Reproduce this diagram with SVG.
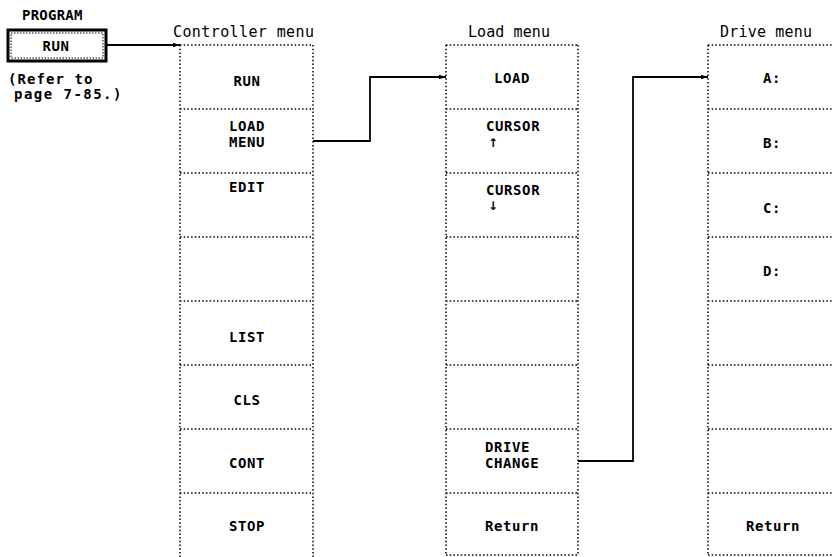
<svg xmlns="http://www.w3.org/2000/svg" width="832" height="557" viewBox="0 0 832 557">
<style>
.bg{fill:#fff}
.dot{stroke:#000;stroke-width:1.5;stroke-dasharray:1.5 2.2;fill:none}
.wire{stroke:#000;stroke-width:1.8;fill:none}
.lbl{font-family:"DejaVu Sans Mono","Liberation Mono",monospace;font-weight:bold;font-size:14px;letter-spacing:0.6px;fill:#000}
.ttl{font-family:"DejaVu Sans Mono","Liberation Mono",monospace;font-size:15px;fill:#000}
.arr{font-family:"DejaVu Sans","Liberation Sans",sans-serif;font-weight:bold;font-size:12px;fill:#000}
.c{text-anchor:middle}
</style>
<defs>
<marker id="ah" markerWidth="8" markerHeight="6" refX="7" refY="3" orient="auto" markerUnits="userSpaceOnUse">
<path d="M0,0.8 L7,3 L0,5.2 Z" fill="#000"/>
</marker>
</defs>
<rect class="bg" x="0" y="0" width="832" height="557"/>

<g id="program">
<text class="lbl" x="22" y="20" textLength="61">PROGRAM</text>
<rect x="8" y="30" width="98" height="31" fill="#fff" stroke="#000" stroke-width="3"/>
<rect x="11" y="33" width="92" height="25" fill="none" stroke="#000" stroke-width="1" stroke-dasharray="1.5 1.5"/>
<text class="lbl c" x="56" y="51">RUN</text>
<text class="lbl" x="8" y="84" textLength="85" font-size="13">(Refer to</text>
<text class="lbl" x="14" y="99" textLength="108" font-size="13">page 7-85.)</text>
</g>

<g id="controller-menu">
<text class="ttl" x="173" y="37" textLength="141">Controller menu</text>
<path class="dot" d="M180,45 H313 M180,45 V557 M313,45 V557 M180,109 H313 M180,173 H313 M180,237 H313 M180,301 H313 M180,365 H313 M180,429 H313 M180,493 H313"/>
<text class="lbl c" x="247" y="86">RUN</text>
<text class="lbl" x="229" y="131">LOAD</text>
<text class="lbl" x="229" y="147">MENU</text>
<text class="lbl c" x="247" y="192">EDIT</text>
<text class="lbl c" x="247" y="342">LIST</text>
<text class="lbl c" x="247" y="405">CLS</text>
<text class="lbl c" x="247" y="468">CONT</text>
<text class="lbl c" x="247" y="531">STOP</text>
</g>

<g id="load-menu">
<text class="ttl" x="468" y="37" textLength="82">Load menu</text>
<path class="dot" d="M446,45 H578 M446,45 V555 M578,45 V555 M446,109 H578 M446,173 H578 M446,237 H578 M446,301 H578 M446,365 H578 M446,429 H578 M446,493 H578 M446,555 H578"/>
<text class="lbl c" x="512" y="83">LOAD</text>
<text class="lbl" x="486" y="131">CURSOR</text>
<text class="arr" x="488" y="147">↑</text>
<text class="lbl" x="486" y="195">CURSOR</text>
<text class="arr" x="488" y="210">↓</text>
<text class="lbl" x="485" y="452">DRIVE</text>
<text class="lbl" x="485" y="468">CHANGE</text>
<text class="lbl c" x="512" y="531">Return</text>
</g>

<g id="drive-menu">
<text class="ttl" x="720" y="37" textLength="92">Drive menu</text>
<path class="dot" d="M708,45 H832 M708,45 V555 M708,109 H832 M708,173 H832 M708,237 H832 M708,301 H832 M708,365 H832 M708,429 H832 M708,493 H832 M708,555 H832"/>
<text class="lbl c" x="772" y="83">A:</text>
<text class="lbl c" x="772" y="148">B:</text>
<text class="lbl c" x="772" y="213">C:</text>
<text class="lbl c" x="772" y="276">D:</text>
<text class="lbl c" x="773" y="531">Return</text>
</g>

<g id="connectors">
<path class="wire" d="M106,45 H180" marker-end="url(#ah)"/>
<path class="wire" d="M313,141 H370 V77 H446" marker-end="url(#ah)"/>
<path class="wire" d="M578,461 H633 V77 H708" marker-end="url(#ah)"/>
</g>
</svg>
